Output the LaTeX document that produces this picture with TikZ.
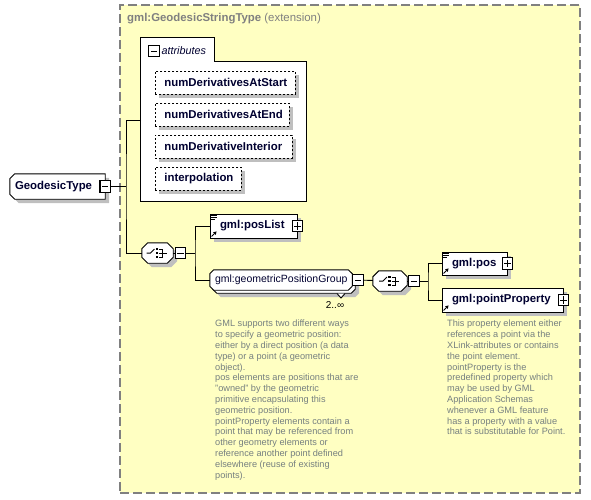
\documentclass[tikz,border=0pt]{standalone}
\usepackage{fontspec}
\setmainfont{Liberation Sans}
\usetikzlibrary{arrows.meta,calc,shadows}
\definecolor{extyellow}{RGB}{255,255,194}
\definecolor{extgray}{RGB}{128,128,128}
\definecolor{notegray}{RGB}{118,128,128}
\definecolor{namenavy}{RGB}{0,0,48}
\hyphenpenalty=10000
\pgfdeclarelayer{back}
\pgfdeclarelayer{shapes}
\pgfsetlayers{back,shapes,main}

\tikzset{
  boxshadow/.style={drop shadow={shadow xshift=4pt,shadow yshift=-4pt,fill=black!25,opacity=1}},
  conn/.style={line width=0.9pt},
  toggle/.style={draw,fill=white,line width=1.1pt,minimum width=10.5pt,minimum height=11.5pt,inner sep=0pt},
  minusbox/.style={toggle,path picture={\draw[line width=1pt] ([xshift=2pt]path picture bounding box.west) -- ([xshift=-2pt]path picture bounding box.east);}},
  plusbox/.style={toggle,path picture={\draw[line width=1pt] ([xshift=2pt]path picture bounding box.west) -- ([xshift=-2pt]path picture bounding box.east) ([yshift=-2pt]path picture bounding box.north) -- ([yshift=2pt]path picture bounding box.south);}},
  extframe/.style={draw=extgray,fill=extyellow,line width=1.2pt,dash pattern=on 9pt off 4pt,minimum width=460pt,minimum height=488pt,inner sep=0pt},
  boldname/.style={font=\fontsize{11.4}{13}\selectfont\bfseries,text=namenavy},
  elembox/.style={draw,fill=white,line width=0.9pt,boxshadow,minimum height=24pt,text width=#1,align=left,inner xsep=10pt,inner ysep=0pt,boldname},
  attbox/.style={draw,fill=white,line width=0.8pt,dash pattern=on 2pt off 2pt,boxshadow,minimum height=23pt,text width=#1,align=left,inner xsep=9pt,inner ysep=0pt,boldname},
  cutholder/.style={minimum height=#1,inner ysep=0pt,align=left},
  notetext/.style={anchor=north west,inner sep=0pt,align=left,text=notegray,font=\fontsize{9.2}{10.8}\selectfont}
}

\newcommand{\listicon}[1]{\foreach \dy/\len in {2/6,4/6,6/4} \draw[line width=0.8pt] ($(#1.north west)+(1.5,\dy)$) -- ++(\len,0);}
\newcommand{\refarrow}[1]{\draw[line width=0.9pt,-{Triangle[length=3pt,width=3.5pt]}] ($(#1.south west)+(2,-2)$) -- ++(5,-5);}
\newcommand{\seqicon}[1]{%
  \draw[line width=1pt] ($(#1)+(-11,0)$) -- ++(4,0) -- ++(4,-4);
  \foreach \dy in {-4,0,4} \fill ($(#1)+(-2,\dy)+(0,-1.3)$) rectangle ++(2.6,2.6);
  \draw[line width=1pt] ($(#1)+(1.5,-4)$) -- ++(3.5,0) -- ++(0,8) -- ++(-3.5,0) ($(#1)+(1.5,0)$) -- ++(7.5,0);}
% outline with cut corners: [options]{node}{left cut}{right cut}
\newcommand{\cutbox}[4][]{%
  \path[#1] ($(#2.north west)+(#3,0)$) -- ($(#2.north east)+(-#4,0)$) -- ($(#2.north east)+(0,#4)$)
    -- ($(#2.south east)+(0,-#4)$) -- ($(#2.south east)+(-#4,0)$) -- ($(#2.south west)+(#3,0)$)
    -- ($(#2.south west)+(0,-#3)$) -- ($(#2.north west)+(0,#3)$) -- cycle;}

\begin{document}
\begin{tikzpicture}[x=1pt,y=-1pt]
  \useasboundingbox (0,0) rectangle (591,499);
  % extension frame
  \begin{pgfonlayer}{back}
    \node[extframe] (ext) at (350,249) {};
  \end{pgfonlayer}
  \node[anchor=west,inner sep=0pt,text=extgray,font=\fontsize{11.4}{13}\selectfont] (exttitle) at (127,19) {\textbf{gml:GeodesicStringType} (extension)};

  % attributes group
  \node[minimum width=73pt,minimum height=24pt,inner sep=0pt] (attrtab) at (177.5,50) {};
  \node[minimum width=165pt,minimum height=139pt,inner sep=0pt] (attrbox) at (223.5,131.5) {};
  \draw[fill=white,line width=0.9pt] (attrtab.south west) |- (attrtab.north east) |- (attrbox.north east) |- (attrbox.south west) -- cycle;
  \node[minusbox] (attrminus) at (154,51) {};
  \node[anchor=west,inner sep=1.5pt,text=namenavy,font=\fontsize{10.8}{12}\selectfont\itshape] (attrlabel) at (attrminus.east) {attributes};
  \foreach \n/\y/\w/\t in {natstart/71/122/numDerivativesAtStart,natend/103/116/numDerivativesAtEnd,nint/135/119/numDerivativeInterior,interp/167/68/interpolation}
    \node[attbox=\w pt,anchor=north west] (\n) at (155,\y) {\t};

  % root element
  \node[cutholder=25pt,text width=85pt,inner xsep=5pt,boldname] (geo) at (57.5,186.5) {GeodesicType};
  \node[minusbox] (geominus) at (geo.east) {};
  \coordinate (j1) at (126,186.5);
  \coordinate (attrin) at (141,120);

  % first sequence
  \node[cutholder=20pt,minimum width=31pt,inner xsep=0pt] (seq1) at (157.5,253) {};
  \seqicon{seq1}
  \node[minusbox] (seq1minus) at (180.5,253) {};
  \coordinate (j2) at (195,253);
  \draw[conn] (geominus) -- (j1);
  \draw[conn] (attrin) -| (j1) |- (seq1.west);
  \draw[conn] (seq1) -- (seq1minus);
  \draw[conn] (seq1minus) -- (j2);

  \node[elembox=67pt] (poslist) at (253.5,226) {gml:posList};
  \node[plusbox] (poslistplus) at (poslist.east) {};
  \listicon{poslist} \refarrow{poslist}

  \node[cutholder=20pt,text width=132pt,inner xsep=5pt,text=namenavy,font=\fontsize{10.5}{12}\selectfont] (gpg) at (281,280) {gml:geometricPositionGroup};
  \node[minusbox,anchor=west] (gpgminus) at (gpg.east) {};
  \node[inner sep=0pt,font=\fontsize{10}{12}\selectfont] (gpgmult) at (335,305) {2..∞};
  \draw[conn] (poslist.west) -| (j2) |- (gpg.west);

  % second sequence
  \node[cutholder=20pt,minimum width=34pt,inner xsep=0pt] (seq2) at (390,281) {};
  \seqicon{seq2}
  \node[minusbox,anchor=west] (seq2minus) at ([xshift=1pt]seq2.east) {};
  \coordinate (j3) at (428,281);
  \draw[conn] (gpgminus) -- (seq2);
  \draw[conn] (seq2) -- (seq2minus);
  \draw[conn] (seq2minus) -- (j3);

  % cut-corner outlines under the texts
  \begin{pgfonlayer}{shapes}
    \foreach \n/\l/\r in {geo/5/0,seq1/6/6,seq2/6/6}
      {\cutbox[fill=black!25,transform canvas={shift={(4,4)}}]{\n}{\l}{\r}
       \cutbox[draw,fill=white,line width=0.9pt]{\n}{\l}{\r}}
    \cutbox[fill=black!25,transform canvas={shift={(7,7)}}]{gpg}{4}{4}
    \cutbox[draw,fill=white,line width=0.9pt,transform canvas={shift={(3,3)}}]{gpg}{4}{4}
    \cutbox[draw,fill=white,line width=0.9pt]{gpg}{4}{4}
    \draw[line width=0.9pt,fill=white] (337,293.5) -- (341,298) -- (345,293.5);
  \end{pgfonlayer}

  \node[elembox=45pt,minimum height=23pt] (pos) at (474.5,263.5) {gml:pos};
  \node[plusbox] (posplus) at (pos.east) {};
  \listicon{pos} \refarrow{pos}
  \node[elembox=101pt] (pointprop) at (502.5,300) {gml:pointProperty};
  \node[plusbox] (pointpropplus) at (pointprop.east) {};
  \refarrow{pointprop}
  \draw[conn] (pos.west) -| (j3) |- (pointprop.west);

  % annotations
  \node[notetext] (gpgnote) at (215,320) {GML supports two different ways\\to specify a geometric position:\\either by a direct position (a data\\type) or a point (a geometric\\object).\\pos elements are positions that are\\"owned" by the geometric\\primitive encapsulating this\\geometric position.\\pointProperty elements contain a\\point that may be referenced from\\other geometry elements or\\reference another point defined\\elsewhere (reuse of existing\\points).};
  \node[notetext] (pointpropnote) at (447,320) {This property element either\\references a point via the\\XLink-attributes or contains\\the point element.\\pointProperty is the\\predefined property which\\may be used by GML\\Application Schemas\\whenever a GML feature\\has a property with a value\\that is substitutable for Point.};
\end{tikzpicture}
\end{document}
